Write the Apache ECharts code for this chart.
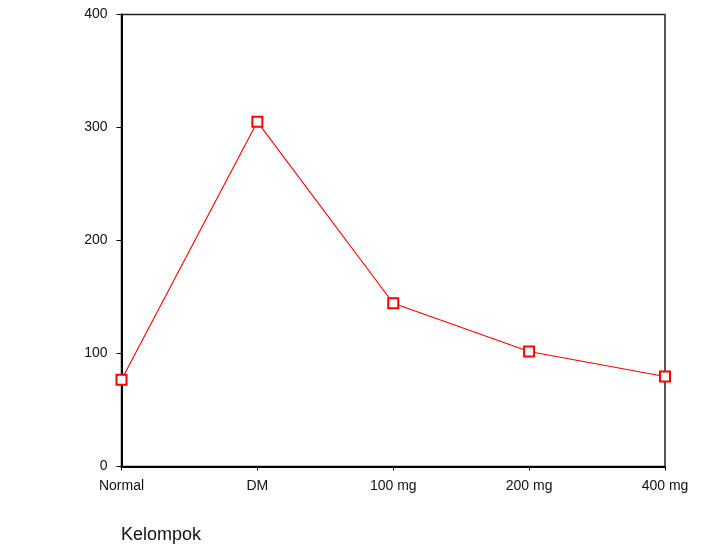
<!DOCTYPE html>
<html><head><meta charset="utf-8">
<script src="https://cdn.jsdelivr.net/npm/echarts@6/dist/echarts.min.js"></script>
<style>html,body{margin:0;padding:0;background:#fff}#c{width:716px;height:551px}</style>
</head><body><div id="c"></div>
<script>
var categories = ['Normal', 'DM', '100 mg', '200 mg', '400 mg'];
var values = [76.7, 305, 144.5, 101.7, 79.6];
var yTicks = [0, 100, 200, 300, 400];
var xTitle = 'Kelompok';

var chart = echarts.init(document.getElementById('c'));
chart.setOption({
  animation: false,
  backgroundColor: '#fff',
  textStyle: { fontFamily: 'Liberation Sans, Arial, sans-serif' },
  title: {
    text: xTitle, left: 116, top: 521,
    textStyle: { fontFamily: 'Liberation Sans, Arial, sans-serif', fontSize: 18, fontWeight: 'normal', color: '#111' }
  },
  grid: { left: 121.5, right: 51, top: 14.5, bottom: 84.5, show: true, borderColor: '#222', borderWidth: 1.5, backgroundColor: 'transparent' },
  xAxis: {
    type: 'category', data: categories, boundaryGap: false,
    axisLine: { lineStyle: { color: '#000', width: 2 } },
    axisTick: { show: true, alignWithLabel: true, length: 4, lineStyle: { color: '#000', width: 1 } },
    axisLabel: { color: '#111', fontSize: 14, margin: 13, interval: 0 },
    splitLine: { show: false }
  },
  yAxis: {
    type: 'value', min: yTicks[0], max: yTicks[yTicks.length - 1], interval: 100,
    axisLine: { show: true, lineStyle: { color: '#000', width: 2 } },
    axisTick: { show: true, length: 5, lineStyle: { color: '#000', width: 1 } },
    axisLabel: { color: '#111', fontSize: 14, margin: 14 },
    splitLine: { show: false }
  },
  series: [{
    type: 'line', data: values,
    symbol: 'emptyRect', symbolSize: 10,
    lineStyle: { color: '#ff0000', width: 1.1 },
    itemStyle: { color: '#ff0000', borderColor: '#ff0000', borderWidth: 1 }
  }]
});
</script></body></html>
